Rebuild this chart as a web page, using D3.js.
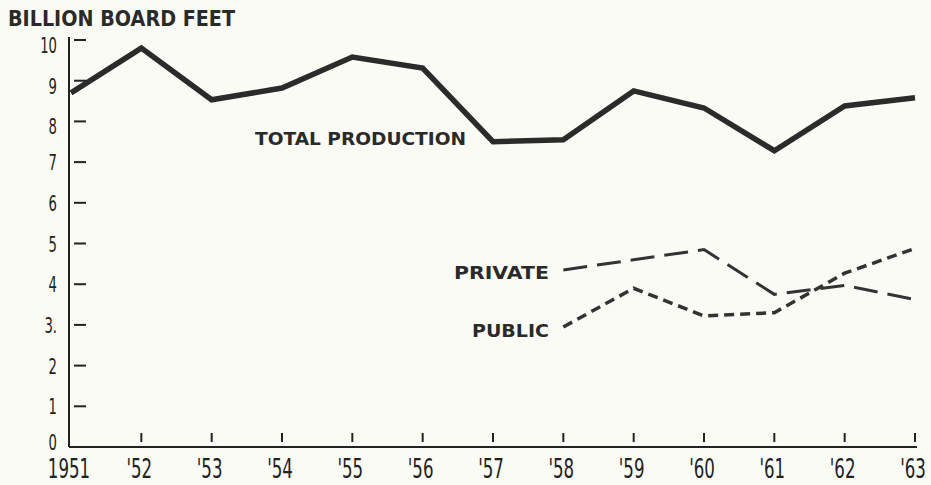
<!DOCTYPE html>
<html lang="en">
<head>
<meta charset="utf-8">
<title>Lumber production</title>
<script src="https://cdn.jsdelivr.net/npm/d3@7"></script>
<style>
  body { margin: 0; background: #fbfbf6; }
  .lbl { font-family: "DejaVu Sans", sans-serif; font-weight: bold; fill: #2a2a2a; }
  .tick-lbl { font-family: "DejaVu Sans", sans-serif; fill: #222; }
</style>
</head>
<body>
<div id="chart"></div>
<script>
  var years = [1951, 1952, 1953, 1954, 1955, 1956, 1957, 1958, 1959, 1960, 1961, 1962, 1963];
  var yearLabels = ["1951", "'52", "'53", "'54", "'55", "'56", "'57", "'58", "'59", "'60", "'61", "'62", "'63"];
  var total = [8.7, 9.8, 8.53, 8.82, 9.58, 9.31, 7.5, 7.55, 8.75, 8.33, 7.28, 8.38, 8.58];
  var privYears = [1958, 1959, 1960, 1961, 1962, 1963];
  var privateVals = [4.35, 4.6, 4.85, 3.75, 3.97, 3.62];
  var publicVals = [2.95, 3.9, 3.22, 3.3, 4.27, 4.88];
  var yTicks = [0, 1, 2, 3, 4, 5, 6, 7, 8, 9, 10];
  var yTickLabels = ["0", "1", "2", "3.", "4", "5", "6", "7", "8", "9", "10"];

  var width = 931, height = 485;

  var svg = d3.select("#chart").append("svg")
      .attr("width", width)
      .attr("height", height);

  var x = d3.scaleLinear().domain([1951, 1963]).range([71, 915]);
  var y = d3.scaleLinear().domain([0, 10]).range([447, 40]);

  // axes
  svg.append("line")
      .attr("x1", 69).attr("x2", 69)
      .attr("y1", y(10) - 3).attr("y2", y(0))
      .attr("stroke", "#222").attr("stroke-width", 2);
  svg.append("line")
      .attr("x1", 69).attr("x2", 917)
      .attr("y1", y(0)).attr("y2", y(0))
      .attr("stroke", "#222").attr("stroke-width", 2);

  // y tick marks (inside) and labels
  svg.selectAll(".ytick")
      .data(yTicks.slice(1))
    .enter().append("line")
      .attr("x1", 74).attr("x2", 86)
      .attr("y1", function(d) { return y(d); })
      .attr("y2", function(d) { return y(d); })
      .attr("stroke", "#222").attr("stroke-width", 2);

  // condensed digits: squeeze horizontally
  svg.selectAll(".ylab")
      .data(yTicks)
    .enter().append("text")
      .attr("class", "tick-lbl")
      .attr("transform", function(d) {
        var dy = d >= 8 ? 13 : (d == 0 ? 3 : 8);
        return "translate(" + 57 + "," + (y(d) + dy) + ") scale(0.6,1)";
      })
      .attr("text-anchor", "end")
      .attr("font-size", 22)
      .text(function(d, i) { return yTickLabels[i]; });

  // x tick marks and labels
  svg.selectAll(".xtick")
      .data(years.slice(1))
    .enter().append("line")
      .attr("x1", function(d) { return x(d); })
      .attr("x2", function(d) { return x(d); })
      .attr("y1", 433).attr("y2", 442)
      .attr("stroke", "#222").attr("stroke-width", 2);

  svg.selectAll(".xlab")
      .data(years)
    .enter().append("text")
      .attr("class", "tick-lbl")
      .attr("transform", function(d) {
        return "translate(" + (x(d) - 2) + ",478) scale(0.64,1)";
      })
      .attr("text-anchor", "middle")
      .attr("font-size", 26)
      .text(function(d, i) { return yearLabels[i]; });

  // lines
  var line = d3.line()
      .x(function(d) { return x(d[0]); })
      .y(function(d) { return y(d[1]); });

  svg.append("path")
      .datum(d3.zip(years, total))
      .attr("d", line)
      .attr("fill", "none")
      .attr("stroke", "#2b2b2b")
      .attr("stroke-width", 5.5)
      .attr("stroke-linejoin", "miter");

  svg.append("path")
      .datum(d3.zip(privYears, privateVals))
      .attr("d", line)
      .attr("fill", "none")
      .attr("stroke", "#333")
      .attr("stroke-width", 3)
      .attr("stroke-dasharray", "24,10");

  svg.append("path")
      .datum(d3.zip(privYears, publicVals))
      .attr("d", line)
      .attr("fill", "none")
      .attr("stroke", "#333")
      .attr("stroke-width", 3.5)
      .attr("stroke-dasharray", "10,6");

  // text labels
  function label(txt, x0, y0, size, len) {
    svg.append("text").attr("class", "lbl")
        .attr("x", x0).attr("y", y0)
        .attr("font-size", size)
        .attr("textLength", len)
        .attr("lengthAdjust", "spacingAndGlyphs")
        .text(txt);
  }

  label("BILLION BOARD FEET", 8, 26, 21, 227);
  label("TOTAL  PRODUCTION", 255, 145, 18, 211);
  label("PRIVATE", 454, 279, 18, 95);
  label("PUBLIC", 472, 337, 18, 77);
</script>
</body>
</html>
